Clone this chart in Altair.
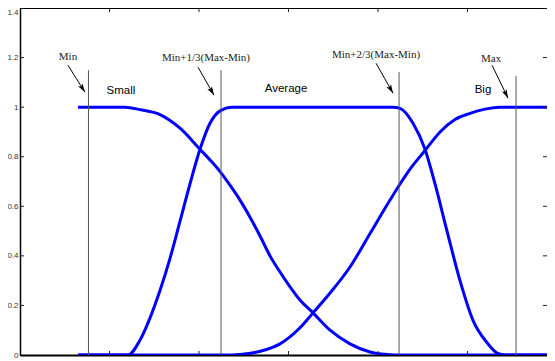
import math
import altair as alt
import pandas as pd

# ---------------- data (x in axis units, y = membership degree) ----------------
small_x = [0.648, 1.173, 1.341, 1.564, 1.788, 2.011, 2.123, 2.235, 2.346, 2.458,
           2.570, 2.682, 2.793, 2.905, 3.017, 3.128, 3.274, 3.464, 3.687, 3.911,
           4.134, 4.246, 5.911]
small_y = [1, 1, 0.99, 0.97, 0.915, 0.83, 0.787, 0.74, 0.685, 0.625,
           0.556, 0.48, 0.40, 0.335, 0.275, 0.222, 0.17, 0.10, 0.045, 0.012,
           0.001, 0, 0]

avg_x = [0.648, 1.207, 1.341, 1.453, 1.564, 1.676, 1.788, 1.899, 2.011, 2.123,
         2.235, 2.369, 4.168, 4.246, 4.391, 4.525, 4.637, 4.771, 4.916, 5.061,
         5.218, 5.330, 5.419, 5.911]
avg_y = [0, 0, 0.06, 0.15, 0.26, 0.39, 0.54, 0.69, 0.83, 0.935,
         0.985, 1, 1, 0.995, 0.935, 0.83, 0.69, 0.50, 0.30, 0.14,
         0.05, 0.008, 0, 0]

big_x = [0.648, 2.369, 2.458, 2.682, 2.905, 3.128, 3.274, 3.464, 3.687, 3.911,
         4.134, 4.246, 4.358, 4.525, 4.693, 4.860, 5.028, 5.196, 5.363, 5.911]
big_y = [0, 0, 0.002, 0.015, 0.045, 0.11, 0.17, 0.25, 0.355, 0.49,
         0.625, 0.69, 0.75, 0.825, 0.90, 0.95, 0.975, 0.992, 1, 1]

# vertical reference lines
vline_x = [0.765, 2.246, 4.235, 5.542]
vline_top = [1.149, 1.149, 1.141, 1.125]

# annotation labels (serif) with arrows
ann_text = ["Min", "Min+1/3(Max-Min)", "Min+2/3(Max-Min)", "Max"]
ann_x = [0.536, 2.078, 3.978, 5.263]
ann_y = [1.202, 1.198, 1.210, 1.194]
arrow_x0 = [0.536, 1.989, 3.978, 5.274]
arrow_y0 = [1.169, 1.161, 1.177, 1.169]
arrow_x1 = [0.726, 2.168, 4.168, 5.453]
arrow_y1 = [1.060, 1.048, 1.056, 1.036]

# fuzzy set names (sans)
cat_text = ["Small", "Average", "Big"]
cat_x = [1.128, 2.972, 5.173]
cat_y = [1.065, 1.073, 1.069]

# ticks
x_ticks = [1, 2, 3, 4, 5]
y_ticks = [0, 0.2, 0.4, 0.6, 0.8, 1.0, 1.2, 1.4]

# ---------------- layout ----------------
W, H = 527, 347
X_DOM = [0, 5.888]
Y_DOM = [0, 1.4]
ppx = W / (X_DOM[1] - X_DOM[0])
ppy = H / (Y_DOM[1] - Y_DOM[0])

xs = alt.Scale(domain=X_DOM, nice=False, zero=False)
ys = alt.Scale(domain=Y_DOM, nice=False, zero=False)

curves = pd.concat([
    pd.DataFrame({"x": small_x, "y": small_y, "set": "Small"}),
    pd.DataFrame({"x": avg_x, "y": avg_y, "set": "Average"}),
    pd.DataFrame({"x": big_x, "y": big_y, "set": "Big"}),
])

vlines = pd.DataFrame({"x": vline_x, "y": [0] * 4, "y2": vline_top})

angles = [(-math.degrees(math.atan2((x1 - x0) * ppx, (y0 - y1) * ppy))) % 360
          for x0, y0, x1, y1 in zip(arrow_x0, arrow_y0, arrow_x1, arrow_y1)]
arrows = pd.DataFrame({"x": arrow_x0, "y": arrow_y0, "x2": arrow_x1,
                       "y2": arrow_y1, "angle": angles})
ann = pd.DataFrame({"x": ann_x, "y": ann_y, "t": ann_text})
cats = pd.DataFrame({"x": cat_x, "y": cat_y, "t": cat_text})
xt = pd.DataFrame({"x": x_ticks})
yt = pd.DataFrame({"y": y_ticks[1:]})

yaxis = alt.Axis(values=y_ticks, format="~g", ticks=False, grid=False,
                 domainColor="black", domainWidth=1.5,
                 labelFont="Liberation Sans", labelFontSize=8,
                 labelColor="#333", labelPadding=2, title=None,
                 labelBaseline={"condition": {"test": "datum.value >= 1.39",
                                              "value": "top"},
                                "value": "middle"})
xaxis = alt.Axis(labels=False, ticks=False, grid=False, domainColor="black",
                 domainWidth=2, title=None)

line_layer = alt.Chart(curves).mark_line(
    color="#0000ff", strokeWidth=3, interpolate="monotone", clip=True
).encode(
    x=alt.X("x:Q", scale=xs, axis=xaxis),
    y=alt.Y("y:Q", scale=ys, axis=yaxis),
    detail="set:N",
)

vline_layer = alt.Chart(vlines).mark_rule(color="#555555", strokeWidth=1).encode(
    x=alt.X("x:Q", scale=xs), y=alt.Y("y:Q", scale=ys), y2="y2:Q"
)

arrow_layer = alt.Chart(arrows).mark_rule(color="black", strokeWidth=1).encode(
    x=alt.X("x:Q", scale=xs), y=alt.Y("y:Q", scale=ys), x2="x2:Q", y2="y2:Q"
)

head_layer = alt.Chart(arrows).mark_point(
    shape="M0,0L-0.65,-2.2L0,-1.7L0.65,-2.2Z", filled=True, color="black",
    opacity=1, size=64, strokeWidth=0
).encode(
    x=alt.X("x2:Q", scale=xs), y=alt.Y("y2:Q", scale=ys),
    angle=alt.Angle("angle:Q", scale=None)
)

ann_layer = alt.Chart(ann).mark_text(
    font="Liberation Serif", fontSize=11, color="#222", align="center", baseline="middle"
).encode(x=alt.X("x:Q", scale=xs), y=alt.Y("y:Q", scale=ys), text="t:N")

cat_layer = alt.Chart(cats).mark_text(
    font="Liberation Sans", fontSize=11.5, color="black",
    align="center", baseline="middle"
).encode(x=alt.X("x:Q", scale=xs), y=alt.Y("y:Q", scale=ys), text="t:N")

tick_top = alt.Chart(xt).mark_rule(color="#222", strokeWidth=1).encode(
    x=alt.X("x:Q", scale=xs), y=alt.value(0), y2=alt.value(4))
tick_bot = alt.Chart(xt).mark_rule(color="#222", strokeWidth=1).encode(
    x=alt.X("x:Q", scale=xs), y=alt.value(H), y2=alt.value(H - 4))
tick_left = alt.Chart(yt).mark_rule(color="#222", strokeWidth=1).encode(
    y=alt.Y("y:Q", scale=ys), x=alt.value(0), x2=alt.value(4))
tick_right = alt.Chart(yt).mark_rule(color="#222", strokeWidth=1).encode(
    y=alt.Y("y:Q", scale=ys), x=alt.value(W - 4), x2=alt.value(W))

chart = alt.layer(
    line_layer, vline_layer, arrow_layer, head_layer, ann_layer, cat_layer,
    tick_top, tick_bot, tick_left, tick_right,
).properties(
    width=W, height=H,
    autosize=alt.AutoSizeParams(type="none"),
    padding={"left": 12, "top": 0, "right": 0, "bottom": 6},
).configure_view(
    stroke="black", strokeWidth=1
)

chart.save("out.html", embed_options={"renderer": "svg", "actions": False})
